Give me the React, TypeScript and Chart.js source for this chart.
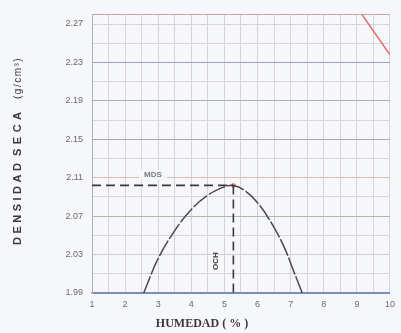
import React, { useEffect, useRef } from "react";
import { Chart, registerables } from "chart.js";

Chart.register(...registerables);

// ---- data ----
const CURVE_X = [2.56, 3.0, 3.5, 4.0, 4.5, 5.0, 5.27, 5.6, 6.0, 6.4, 6.8, 7.1, 7.35];
const CURVE_Y = [1.99, 2.026, 2.055, 2.077, 2.092, 2.1005, 2.102, 2.097, 2.084, 2.064, 2.038, 2.012, 1.99];
const SAT_X = [9.15, 10];
const SAT_Y = [2.28, 2.238];
const MDS = 2.102;
const OCH = 5.27;
const X_MIN = 1;
const X_MAX = 10;
const Y_MIN = 1.99;
const Y_MAX = 2.28;
const X_LABELS = [1, 2, 3, 4, 5, 6, 7, 8, 9, 10];
const X_MINOR = [1.5, 2.5, 3.5, 4.5, 5.5, 6.5, 7.5, 8.5, 9.5];
const Y_LABELS = [1.99, 2.03, 2.07, 2.11, 2.15, 2.19, 2.23, 2.27];
const Y_MINOR = [2.01, 2.05, 2.09, 2.13, 2.17, 2.21, 2.25];
const Y_TITLE_PARTS = ["DENSIDAD", "SECA", "(g/cm³)"];
const X_TITLE = "HUMEDAD ( % )";
const MDS_LABEL = "MDS";
const OCH_LABEL = "OCH";

const MAJOR_COLORS = ["#7d8cc0", "#d0d0d6", "#aebaae", "#dcbfa8", "#aaa3c9", "#a6b0c2", "#a09dca", "#d4d4da"];

const near = (a: number, b: number) => Math.abs(a - b) < 1e-6;

const annotPlugin = {
  id: "annot",
  beforeDraw(chart: any) {
    const { ctx } = chart;
    ctx.save();
    ctx.fillStyle = "#f6f7fb";
    ctx.fillRect(0, 0, chart.width, chart.height);
    ctx.restore();
  },
  afterDraw(chart: any) {
    const { ctx } = chart;
    const x = chart.scales.x;
    const y = chart.scales.y;
    ctx.save();
    // MDS label with background box
    const mx = x.getPixelForValue(2.84);
    const my = y.getPixelForValue(MDS) - 11;
    ctx.font = "bold 8px 'Liberation Sans', Arial, sans-serif";
    const w = ctx.measureText(MDS_LABEL).width;
    ctx.fillStyle = "#f6f7fb";
    ctx.fillRect(mx - w / 2 - 5, my - 5, w + 10, 10);
    ctx.fillStyle = "#7a7a82";
    ctx.textAlign = "center";
    ctx.textBaseline = "middle";
    ctx.fillText(MDS_LABEL, mx, my);

    // OCH label rotated
    const ox = x.getPixelForValue(OCH) - 18;
    const oy = y.getPixelForValue(Y_MIN) - 32;
    ctx.save();
    ctx.translate(ox, oy);
    ctx.rotate(-Math.PI / 2);
    ctx.fillStyle = "#444";
    ctx.fillText(OCH_LABEL, 0, 0);
    ctx.restore();

    // Y title
    ctx.save();
    ctx.translate(18, 245);
    ctx.rotate(-Math.PI / 2);
    ctx.textAlign = "left";
    ctx.textBaseline = "middle";
    ctx.fillStyle = "#3a3a3a";
    (ctx as any).letterSpacing = "3.5px";
    ctx.font = "bold 11px 'Liberation Sans', Arial, sans-serif";
    ctx.fillText(Y_TITLE_PARTS[0], 0, 0);
    (ctx as any).letterSpacing = "4.5px";
    ctx.fillText(Y_TITLE_PARTS[1], 89, 0);
    (ctx as any).letterSpacing = "1.5px";
    ctx.font = "10px 'Liberation Sans', Arial, sans-serif";
    ctx.fillText(Y_TITLE_PARTS[2], 146, 0);
    ctx.restore();

    // X title
    ctx.font = "bold 12px 'Liberation Serif', 'Times New Roman', serif";
    ctx.fillStyle = "#3a3a3a";
    ctx.textAlign = "center";
    ctx.textBaseline = "middle";
    ctx.fillText(X_TITLE, 202, 324);
    ctx.restore();
  },
};

export default function App() {
  const ref = useRef<HTMLCanvasElement | null>(null);
  useEffect(() => {
    if (!ref.current) return;
    const curve = CURVE_X.map((v, i) => ({ x: v, y: CURVE_Y[i] }));
    const sat = SAT_X.map((v, i) => ({ x: v, y: SAT_Y[i] }));
    const chart = new Chart(ref.current, {
      type: "scatter",
      data: {
        datasets: [
          {
            data: [{ x: X_MIN, y: MDS }, { x: OCH, y: MDS }],
            showLine: true,
            borderColor: "#3a3a3a",
            borderWidth: 1.6,
            borderDash: [9, 5],
            pointRadius: 0,
          },
          {
            data: [{ x: OCH, y: MDS }, { x: OCH, y: Y_MIN }],
            showLine: true,
            borderColor: "#3a3a3a",
            borderWidth: 1.6,
            borderDash: [9, 5],
            pointRadius: 0,
          },
          {
            data: curve,
            showLine: true,
            borderColor: "#4a4a4a",
            borderWidth: 1.5,
            borderDash: [18, 2],
            tension: 0.4,
            pointRadius: 0,
          },
          {
            data: sat,
            showLine: true,
            borderColor: "#e26c6c",
            borderWidth: 1.5,
            pointRadius: 0,
          },
          {
            data: [{ x: OCH, y: MDS }],
            pointRadius: 2,
            pointBackgroundColor: "#ee8080",
            pointBorderColor: "#ee8080",
          },
        ],
      },
      options: {
        animation: false,
        responsive: false,
        layout: { padding: { top: 6, right: 6, left: 0, bottom: 0 } },
        plugins: { legend: { display: false }, tooltip: { enabled: false } },
        scales: {
          x: {
            type: "linear",
            min: X_MIN,
            max: X_MAX,
            afterFit: (s: any) => {
              s.height = 40;
            },
            afterBuildTicks: (s: any) => {
              s.ticks = [...X_LABELS, ...X_MINOR].sort((a, b) => a - b).map((v) => ({ value: v }));
            },
            ticks: {
              autoSkip: false,
              maxRotation: 0,
              padding: 6,
              color: "#6a6a6a",
              font: { family: "'Liberation Sans', Arial, sans-serif", size: 9 },
              callback: (v: any) => (X_LABELS.some((l) => near(l, Number(v))) ? String(Number(v)) : ""),
            },
            grid: { color: "#d3d3d8", drawTicks: false, lineWidth: 1 },
            border: { color: "#7d8cc0", width: 1.2 },
          },
          y: {
            type: "linear",
            min: Y_MIN,
            max: Y_MAX,
            afterFit: (s: any) => {
              s.width = 92;
            },
            afterBuildTicks: (s: any) => {
              s.ticks = [...Y_LABELS, ...Y_MINOR, Y_MAX].sort((a, b) => a - b).map((v) => ({ value: v }));
            },
            ticks: {
              autoSkip: false,
              padding: 9,
              color: "#6a6a6a",
              font: { family: "'Liberation Sans', Arial, sans-serif", size: 9 },
              callback: (v: any) => {
                const n = Number(v);
                return Y_LABELS.some((l) => near(l, n)) ? n.toFixed(2) : "";
              },
            },
            grid: {
              drawTicks: false,
              lineWidth: 1,
              color: (c: any) => {
                const v = c.tick ? c.tick.value : 0;
                if (near(v, Y_MAX)) return "#c6a4a4";
                const idx = Y_LABELS.findIndex((l) => near(l, v));
                return idx >= 0 ? MAJOR_COLORS[idx] : "#d6d6dc";
              },
            },
            border: { color: "#b0b0b8", width: 1 },
          },
        },
      },
      plugins: [annotPlugin],
    });
    return () => chart.destroy();
  }, []);
  return (
    <div style={{ position: "fixed", left: 0, top: 0, width: 401, height: 333 }}>
      <canvas ref={ref} width={401} height={333} />
    </div>
  );
}
